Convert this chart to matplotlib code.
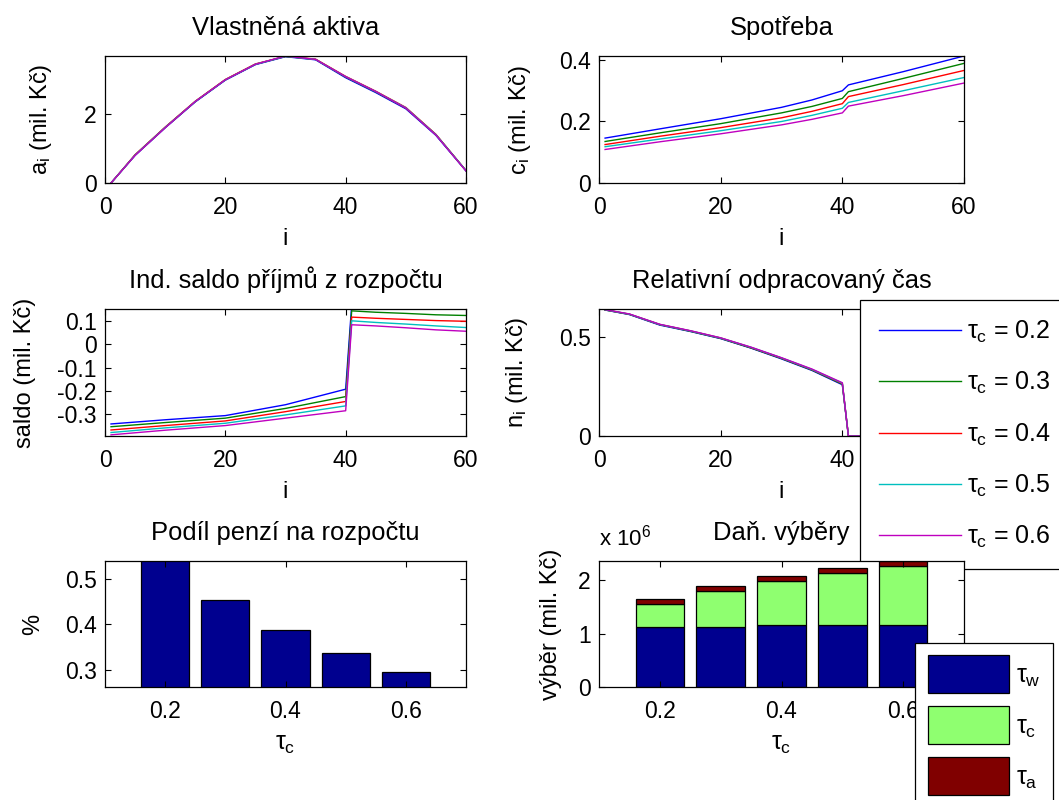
import numpy as np
import matplotlib
matplotlib.use("Agg")
import matplotlib.pyplot as plt
from matplotlib.ticker import FuncFormatter

plt.rcParams['font.family'] = ['Liberation Sans', 'DejaVu Sans']
plt.rcParams['font.size'] = 15.3
plt.rcParams['axes.labelsize'] = 17
plt.rcParams['xtick.labelsize'] = 16.5
plt.rcParams['ytick.labelsize'] = 16.5
plt.rcParams['mathtext.fontset'] = 'custom'
plt.rcParams['mathtext.rm'] = 'Liberation Sans'
plt.rcParams['mathtext.it'] = 'Liberation Sans'
plt.rcParams['mathtext.bf'] = 'Liberation Sans'
plt.rcParams['axes.unicode_minus'] = False
plt.rcParams['axes.linewidth'] = 0.9

# scenarios: tau_c values and line colours
tau_c = [0.2, 0.3, 0.4, 0.5, 0.6]
colors = ['#0000ff', '#008000', '#ff0000', '#00bfbf', '#bf00bf']

# assets a_i
i_assets = [1, 5, 10, 15, 20, 25, 30, 35, 40, 45, 50, 55, 60]
assets = [
    [0.0, 0.80, 1.60, 2.35, 2.98, 3.43, 3.66, 3.57, 3.05, 2.62, 2.15, 1.38, 0.35],
    [0.0, 0.81, 1.61, 2.36, 2.99, 3.44, 3.67, 3.58, 3.07, 2.64, 2.17, 1.40, 0.36],
    [0.0, 0.82, 1.62, 2.37, 3.00, 3.45, 3.67, 3.59, 3.09, 2.66, 2.19, 1.41, 0.36],
    [0.0, 0.81, 1.61, 2.36, 2.99, 3.44, 3.67, 3.58, 3.08, 2.65, 2.18, 1.40, 0.36],
    [0.0, 0.80, 1.60, 2.36, 2.99, 3.44, 3.68, 3.58, 3.08, 2.65, 2.17, 1.39, 0.35],
]

# consumption c_i
i_cons = [1, 10, 20, 30, 35, 40, 41, 50, 60]
cons = [
    [0.146, 0.176, 0.209, 0.246, 0.270, 0.300, 0.319, 0.362, 0.413],
    [0.135, 0.163, 0.193, 0.228, 0.249, 0.275, 0.297, 0.340, 0.389],
    [0.125, 0.152, 0.180, 0.212, 0.233, 0.258, 0.281, 0.320, 0.366],
    [0.118, 0.143, 0.170, 0.200, 0.220, 0.243, 0.262, 0.300, 0.343],
    [0.109, 0.134, 0.160, 0.189, 0.207, 0.228, 0.250, 0.284, 0.325],
]

# individual budget balance
i_saldo = [1, 10, 20, 30, 40, 41, 45, 50, 55, 60]
saldo = [
    [-0.343, -0.325, -0.307, -0.260, -0.193, 0.170, 0.166, 0.162, 0.158, 0.155],
    [-0.355, -0.337, -0.318, -0.276, -0.225, 0.145, 0.139, 0.134, 0.128, 0.125],
    [-0.369, -0.350, -0.330, -0.290, -0.246, 0.118, 0.113, 0.108, 0.103, 0.100],
    [-0.380, -0.360, -0.340, -0.304, -0.265, 0.102, 0.095, 0.088, 0.080, 0.073],
    [-0.390, -0.370, -0.350, -0.318, -0.286, 0.085, 0.080, 0.072, 0.063, 0.057],
]

# relative worked time n_i
i_work = [1, 5, 10, 15, 20, 25, 30, 35, 40, 41, 45, 50, 55, 60]
work = [
    [0.634, 0.611, 0.558, 0.526, 0.490, 0.442, 0.388, 0.330, 0.258, 0.0, 0.0, 0.0, 0.0, 0.0],
    [0.634, 0.612, 0.560, 0.527, 0.491, 0.443, 0.390, 0.332, 0.261, 0.0, 0.0, 0.0, 0.0, 0.0],
    [0.635, 0.613, 0.561, 0.529, 0.493, 0.445, 0.392, 0.334, 0.264, 0.0, 0.0, 0.0, 0.0, 0.0],
    [0.635, 0.613, 0.561, 0.529, 0.493, 0.446, 0.393, 0.335, 0.266, 0.0, 0.0, 0.0, 0.0, 0.0],
    [0.636, 0.614, 0.562, 0.530, 0.494, 0.447, 0.394, 0.337, 0.268, 0.0, 0.0, 0.0, 0.0, 0.0],
]

# pension share of budget
pension_share = [0.56, 0.453, 0.387, 0.338, 0.295]

# tax revenues
tax_w = [1.13e6, 1.13e6, 1.16e6, 1.16e6, 1.16e6]
tax_c = [0.43e6, 0.67e6, 0.83e6, 0.98e6, 1.12e6]
tax_a = [0.09e6, 0.09e6, 0.09e6, 0.09e6, 0.08e6]
bar_colors = ['#00008f', '#8fff70', '#800000']

W, H = 1059, 800
fig = plt.figure(figsize=(W / 100, H / 100), dpi=100)


def box(left, top, right, bottom):
    return [left / W, 1 - bottom / H, (right - left) / W, (bottom - top) / H]


def style(ax):
    ax.tick_params(direction='in', length=4, width=0.8, top=True, right=True)
    ax.tick_params(axis='x', pad=9)
    ax.tick_params(axis='y', pad=6)
    ax.yaxis.set_major_formatter(FuncFormatter(lambda v, p: '%g' % v))
    ax.xaxis.set_major_formatter(FuncFormatter(lambda v, p: '%g' % v))


ax1 = fig.add_axes(box(105, 56, 466, 183))
ax2 = fig.add_axes(box(599, 56, 964, 183))
ax3 = fig.add_axes(box(105, 309, 466, 436))
ax4 = fig.add_axes(box(599, 309, 964, 436))
ax5 = fig.add_axes(box(105, 561, 466, 687))
ax6 = fig.add_axes(box(599, 561, 964, 687))

lines = []
for k in range(5):
    ax1.plot(i_assets, assets[k], color=colors[k], lw=1.0)
    ax2.plot(i_cons, cons[k], color=colors[k], lw=1.0)
    ax3.plot(i_saldo, saldo[k], color=colors[k], lw=1.0)
    ln, = ax4.plot(i_work, work[k], color=colors[k], lw=1.0)
    lines.append(ln)

ax1.set_ylim(0, 3.68)
ax1.set_yticks([0, 2])
ax2.set_ylim(0, 0.413)
ax2.set_yticks([0, 0.2, 0.4])
ax3.set_ylim(-0.395, 0.153)
ax3.set_yticks([-0.3, -0.2, -0.1, 0, 0.1])
ax4.set_ylim(0, 0.639)
ax4.set_yticks([0, 0.5])

titles = ['Vlastněná aktiva', 'Spotřeba', 'Ind. saldo příjmů z rozpočtu',
          'Relativní odpracovaný čas']
ylabels = [r'a$_\mathregular{i}$ (mil. Kč)', r'c$_\mathregular{i}$ (mil. Kč)',
           'saldo (mil. Kč)', r'n$_\mathregular{i}$ (mil. Kč)']
label_x = [-0.14, -0.18, -0.19, -0.19]
for ax, t, yl, lx in zip([ax1, ax2, ax3, ax4], titles, ylabels, label_x):
    ax.set_xlim(0, 60)
    ax.set_xticks([0, 20, 40, 60])
    style(ax)
    ax.set_title(t, pad=15)
    ax.set_xlabel('i', labelpad=7)
    ax.set_ylabel(yl)
    ax.yaxis.set_label_coords(lx, 0.5)

# the "60" label of this panel sits under the legend
ax4.get_xticklabels()[-1].set_visible(False)

leg1 = ax4.legend(lines, [r'$\tau_\mathregular{c}$ = %g' % t for t in tau_c],
                  loc='upper left', bbox_to_anchor=(860 / W, 1 - 300 / H),
                  bbox_transform=fig.transFigure, borderaxespad=0,
                  fancybox=False, framealpha=1, edgecolor='black',
                  fontsize=18, handlelength=3.28, handletextpad=0.24,
                  borderpad=0.76, labelspacing=1.0)
leg1.get_frame().set_linewidth(0.9)

# bottom row: bar charts
ax5.bar(tau_c, pension_share, width=0.08, color=bar_colors[0], edgecolor='black', lw=0.9)
ax5.set_xlim(0.1, 0.7)
ax5.set_ylim(0.263, 0.5385)
ax5.set_xticks([0.2, 0.4, 0.6])
ax5.set_yticks([0.3, 0.4, 0.5])
style(ax5)
ax5.set_title('Podíl penzí na rozpočtu', pad=15)
ax5.set_xlabel(r'$\tau_\mathregular{c}$', labelpad=7, fontsize=18)
ax5.set_ylabel('%')
ax5.yaxis.set_label_coords(-0.17, 0.5)

bw = ax6.bar(tau_c, tax_w, width=0.08, color=bar_colors[0], edgecolor='black', lw=0.9)
bc = ax6.bar(tau_c, tax_c, width=0.08, bottom=tax_w, color=bar_colors[1],
             edgecolor='black', lw=0.9)
bottom_a = [w + c for w, c in zip(tax_w, tax_c)]
ba = ax6.bar(tau_c, tax_a, width=0.08, bottom=bottom_a, color=bar_colors[2],
             edgecolor='black', lw=0.9)
ax6.set_xlim(0.1, 0.7)
ax6.set_ylim(0, 2.365e6)
ax6.set_xticks([0.2, 0.4, 0.6])
ax6.set_yticks([0, 1e6, 2e6])
style(ax6)
ax6.yaxis.set_major_formatter(FuncFormatter(lambda v, p: '%g' % (v / 1e6)))
ax6.set_title('Daň. výběry', pad=15, loc='center')
ax6.set_xlabel(r'$\tau_\mathregular{c}$', labelpad=7, fontsize=18)
ax6.set_ylabel('výběr (mil. Kč)')
ax6.yaxis.set_label_coords(-0.10, 0.5)
ax6.text(0.0, 1.125, r'x 10$^\mathregular{6}$', transform=ax6.transAxes,
         fontsize=16, ha='left', va='baseline')

leg2 = ax6.legend([bw, bc, ba], [r'$\tau_\mathregular{w}$', r'$\tau_\mathregular{c}$',
                                 r'$\tau_\mathregular{a}$'],
                  loc='upper left', bbox_to_anchor=(915 / W, 1 - 643 / H),
                  bbox_transform=fig.transFigure, borderaxespad=0,
                  fancybox=False, framealpha=1, edgecolor='black',
                  fontsize=18, handlelength=3.24, handleheight=1.96,
                  handletextpad=0.3, borderpad=0.5, labelspacing=0.52)
leg2.get_frame().set_linewidth(0.9)

fig.savefig('out.png', dpi=100)
